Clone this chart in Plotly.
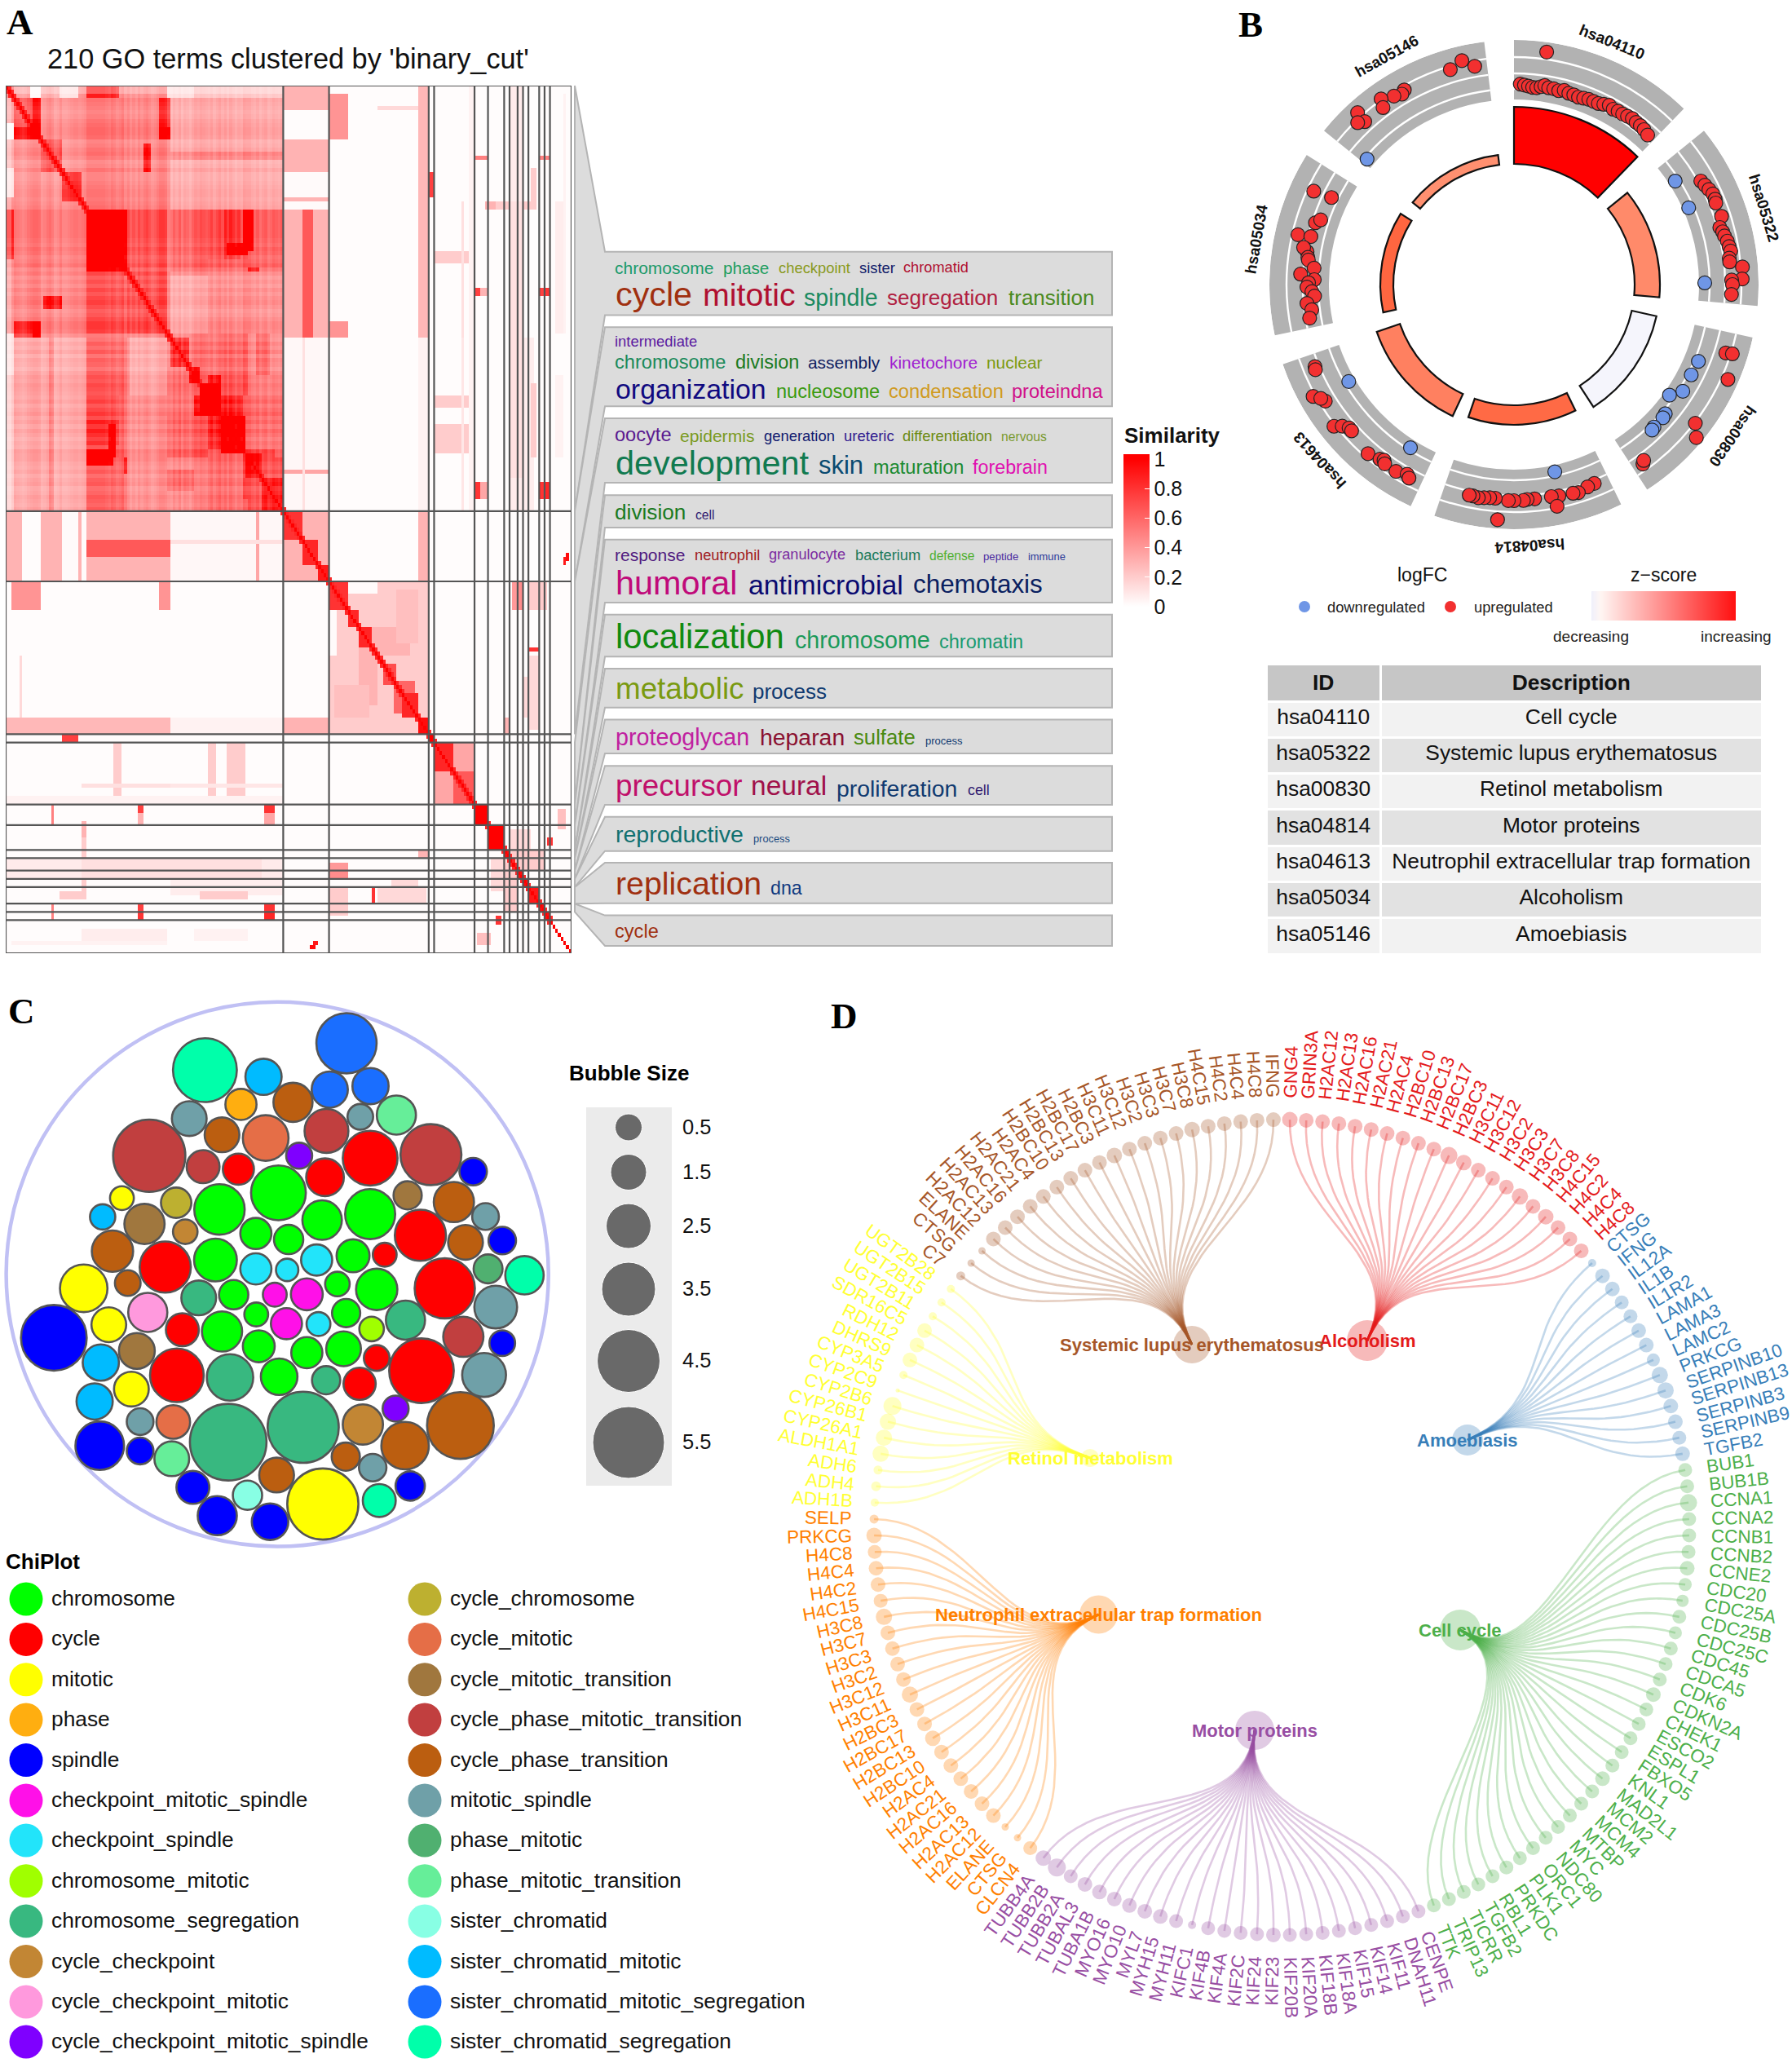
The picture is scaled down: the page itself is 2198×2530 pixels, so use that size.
import numpy as np
import plotly.graph_objects as go

W_PX, H_PX = 2198, 2530
FONT = "Liberation Sans"

# ---------- Panel A data ----------
N_TERMS = 210
BLOCK_EDGES = [0, 103, 120, 157, 159, 174, 179, 185, 187, 190, 192, 194, 198, 200, 202, 210]
# (row0, row1, col0, col1, similarity), mirrored across the diagonal
SIM_PATCHES = [
    (0, 103, 0, 103, .36), (61, 103, 0, 2, .1), (3, 30, 2, 103, .38),
    (3, 13, 2, 13, .55), (3, 13, 10, 13, .75), (13, 21, 13, 21, .6), (21, 28, 21, 28, .75),
    (0, 30, 57, 60, .55), (4, 13, 57, 60, .85), (30, 61, 0, 30, .42), (30, 40, 0, 2, .7),
    (51, 54, 14, 21, .8), (57, 61, 2, 13, .7), (57, 61, 10, 13, .9),
    (30, 61, 30, 60, .55), (30, 45, 30, 45, .85), (35, 45, 30, 45, .9), (30, 40, 30, 38, 1.0),
    (45, 61, 45, 60, .6), (30, 61, 60, 88, .45),
    (44, 54, 62, 63, .28), (44, 54, 65, 66, .28), (44, 54, 68, 69, .28), (44, 54, 71, 72, .28),
    (44, 54, 75, 76, .28), (44, 54, 78, 79, .28), (44, 54, 82, 83, .28), (44, 54, 85, 86, .28),
    (30, 40, 70, 80, .55), (36, 40, 70, 80, .7), (38, 41, 80, 88, .85),
    (30, 61, 88, 103, .5), (30, 48, 88, 93, .8),
    (61, 103, 30, 45, .5), (75, 90, 30, 42, .55), (81, 87, 30, 42, .65), (88, 92, 30, 40, .85),
    (90, 94, 44, 48, .8), (82, 90, 38, 41, .9),
    (61, 103, 2, 30, .3), (61, 103, 16, 18, .4), (61, 103, 45, 60, .38), (61, 75, 46, 60, .3),
    (68, 90, 60, 88, .5), (75, 85, 70, 88, .75), (80, 90, 60, 75, .55),
    (90, 103, 60, 88, .42), (93, 98, 60, 70, .55), (75, 103, 88, 103, .5), (90, 100, 88, 103, .6),
    (61, 68, 61, 68, .8), (68, 72, 68, 72, .95), (72, 80, 72, 80, 1.0), (80, 89, 80, 89, 1.0),
    (89, 95, 89, 95, .85), (95, 103, 95, 103, .8), (0, 3, 0, 3, .6),
    (0, 3, 3, 9, .35), (0, 3, 9, 13, .02), (0, 3, 13, 20, .3), (0, 3, 20, 27, .1), (0, 3, 27, 30, .4),
    (0, 3, 30, 42, .75), (0, 3, 42, 60, .4), (0, 3, 60, 70, .12), (0, 3, 70, 103, .2),
    # cluster 1 x cluster 2
    (0, 61, 103, 120, .3), (6, 13, 103, 120, .01), (21, 27, 103, 120, .02), (28, 30, 103, 120, .02),
    (30, 61, 110, 114, .65), (61, 103, 103, 120, .03), (93, 94, 103, 120, .35), (61, 103, 110, 111, .12),
    (103, 120, 103, 120, .3), (103, 110, 103, 110, .8), (110, 116, 110, 114, .85), (116, 120, 116, 120, .9),
    # cluster 1, 2 x cluster 3
    (2, 13, 120, 127, .42), (57, 61, 120, 127, .42), (5, 6, 138, 153, .15),
    (0, 61, 153, 157, .28), (103, 120, 153, 157, .3), (61, 103, 153, 157, .05),
    (120, 157, 120, 157, .2), (120, 127, 120, 127, .8), (120, 123, 127, 138, .02),
    (127, 133, 120, 122, .02), (131, 140, 131, 140, .85), (140, 145, 140, 145, .7),
    (144, 152, 144, 152, .6), (147, 153, 148, 153, .85), (153, 157, 153, 157, .95),
    (127, 131, 127, 131, .85), (136, 150, 131, 138, .3), (122, 135, 145, 153, .25),
    (157, 159, 157, 159, 1.0), (21, 27, 157, 159, .75),
    # cluster 5
    (159, 174, 159, 174, .35), (159, 166, 159, 166, .85), (166, 174, 166, 174, .65),
    (40, 43, 159, 174, .2), (75, 78, 159, 174, .2), (82, 89, 159, 174, .2),
    (28, 61, 169, 170, .12), (61, 103, 169, 170, .1),
    # small clusters
    (174, 179, 174, 179, 1.0), (17, 18, 174, 179, .5), (49, 51, 174, 176, .75), (49, 51, 176, 179, .3),
    (96, 100, 174, 176, .8), (96, 100, 176, 179, .35),
    (179, 185, 179, 185, 1.0), (185, 187, 185, 187, .95), (187, 190, 187, 190, 1.0),
    (190, 192, 190, 192, .95), (192, 194, 192, 194, .95), (194, 198, 194, 198, .9),
    (198, 200, 198, 200, .95), (200, 202, 200, 202, .95),
    (4, 14, 188, 191, .55), (57, 61, 188, 191, .6), (120, 127, 188, 191, .4),
    (2, 13, 190, 192, .6), (57, 61, 190, 192, .6), (120, 127, 190, 192, .45),
    (120, 127, 197, 201, .2), (28, 30, 180, 197, .2), (0, 103, 187, 192, .08), (61, 103, 192, 196, .07),
    (17, 18, 198, 202, .5), (49, 51, 198, 202, .75), (96, 100, 198, 202, .8),
    (17, 18, 200, 202, .5), (49, 51, 200, 202, .8), (96, 100, 200, 202, .85),
    (194, 198, 120, 127, .2), (194, 198, 138, 156, .15), (194, 198, 136, 137, .8),
    (208, 209, 113, 115, .95), (114, 116, 207, 208, .9), (143, 153, 192, 197, .15),
    (153, 157, 185, 187, .3), (182, 184, 201, 203, .8), (205, 208, 175, 180, .25), (180, 190, 187, 195, .15),
    (188, 200, 185, 190, .2), (207, 208, 2, 60, .05), (204, 207, 28, 60, .07), (204, 207, 70, 90, .05),
    (195, 197, 72, 90, .2), (195, 197, 20, 30, .2), (187, 192, 28, 60, .12), (187, 192, 60, 95, .12),
    (172, 174, 0, 103, .05), (178, 182, 28, 30, .3),
]
# light/dark tone of the first 103 terms, seen as stripes in the large cluster
TERM_TONE = [.7, .7, 1.0, 1.1, 1.05, 1.0, .95, 1.0, 1.1, 1.15, 1.2, 1.2, 1.15, .95, 1.0, 1.1, 1.15, 1.05, .9, .95, 1.1,
             .95, .95, 1.0, 1.05, 1.1, 1.1, 1.05, 1.1, 1.15, 1.2, 1.2, 1.2, 1.2, 1.2, 1.2, 1.2, 1.15, 1.1, 1.2, 1.15, 1.05,
             1.1, 1.2, 1.0, 1.1, .95, 1.05, .95, 1.1, 1.0, 1.1, 1.15, 1.05, .95, 1.0, 1.1, 1.2, 1.2, 1.15, .95, .9,
             1.05, .95, 1.1, .9, 1.05, 1.0, .9, 1.05, 1.15, 1.1, 1.2, 1.15, 1.1, 1.05, 1.15, 1.0, 1.1, 1.2, 1.05, 1.15, 1.0,
             1.15, 1.05, .95, 1.05, 1.0, 1.2, 1.15, 1.15, 1.05, 1.0, 1.1, .95, 1.05, 1.1, .95, 1.0, 1.1, 1.05, 1.0, 1.1]
CLUSTER_WORDS = [
    ["chromosome", "phase", "checkpoint", "sister", "chromatid", "cycle", "mitotic", "spindle", "segregation", "transition"],
    ["intermediate", "chromosome", "division", "assembly", "kinetochore", "nuclear", "organization", "nucleosome", "condensation", "proteindna"],
    ["oocyte", "epidermis", "generation", "ureteric", "differentiation", "nervous", "development", "skin", "maturation", "forebrain"],
    ["division", "cell"],
    ["response", "neutrophil", "granulocyte", "bacterium", "defense", "peptide", "immune", "humoral", "antimicrobial", "chemotaxis"],
    ["localization", "chromosome", "chromatin"],
    ["metabolic", "process"],
    ["proteoglycan", "heparan", "sulfate", "process"],
    ["precursor", "neural", "proliferation", "cell"],
    ["reproductive", "process"],
    ["replication", "dna"],
    ["cycle"],
]
# styling of the words (left, right, middle in a 1568-wide crop frame; colour)
WORD_LAYOUT = [
    [(103,335,67,"#1a9a6a"),(357,465,67,"#1e9e60"),(488,656,67,"#8a9a1e"),(676,760,67,"#10206a"),(781,934,67,"#b01030"),
     (105,285,125,"#a03010"),(310,527,125,"#b01030"),(547,720,133,"#1a8a60"),(742,1003,133,"#b02040"),(1026,1228,133,"#4a8a20")],
    [(103,297,227,"#5a1aa0"),(103,364,271,"#1a8a5a"),(386,536,271,"#1a7a20"),(557,726,273,"#102060"),(747,954,273,"#a020d0"),
     (976,1107,273,"#7a9a10"),(105,458,329,"#100a80"),(481,724,334,"#3a9a10"),(745,1014,334,"#d09a20"),(1035,1248,334,"#d0108a")],
    [(103,236,429,"#5a1a90"),(257,432,430,"#7a9a20"),(453,619,431,"#101a70"),(640,758,431,"#301a90"),(778,989,431,"#6a8a10"),
     (1009,1116,432,"#7a9a30"),(105,558,490,"#107a50"),(582,687,495,"#0a4a70"),(709,922,499,"#1a8a30"),(943,1119,499,"#e010b0")],
    [(103,270,595,"#1a7a20"),(292,337,601,"#301a70")],
    [(103,268,688,"#501a80"),(290,444,688,"#a01a20"),(465,645,688,"#7a2aa0"),(667,821,688,"#1a7a5a"),(842,948,690,"#50b030"),
     (968,1051,692,"#4a2aa0"),(1072,1160,692,"#2a3a9a"),(105,391,748,"#c00a7a"),(416,779,752,"#0a0a70"),(803,1107,752,"#0a2060")],
    [(105,500,865,"#108a10"),(525,842,873,"#1a9a5a"),(864,1061,875,"#1a9a70")],
    [(105,406,977,"#7a9a10"),(427,601,983,"#103a70")],
    [(105,419,1082,"#c020a0"),(443,642,1082,"#8a1030"),(664,809,1082,"#4a8a10"),(832,919,1090,"#103a70")],
    [(105,402,1187,"#c0106a"),(423,601,1187,"#a0104a"),(624,908,1192,"#103a70"),(932,983,1197,"#301a70")],
    [(105,405,1292,"#107070"),(428,514,1301,"#1a4a80")],
    [(105,447,1398,"#a03010"),(469,543,1408,"#103a80")],
    [(103,206,1502,"#a03010")],
]
BOX_SPANS = [(33,170),(196,367),(393,532),(559,629),(655,791),(817,908),(934,1018),(1044,1117),(1144,1228),(1254,1328),(1353,1441),(1467,1533)]
BOX_BLOCK = [0, 1, 2, 4, 5, 6, 7, 8, 9, 10, 11, 12]

# ---------- Panel B data ----------
KEGG_ID = ["hsa04110", "hsa05322", "hsa00830", "hsa04814", "hsa04613", "hsa05034", "hsa05146"]
KEGG_DESC = ["Cell cycle", "Systemic lupus erythematosus", "Retinol metabolism", "Motor proteins",
             "Neutrophil extracellular trap formation", "Alcoholism", "Amoebiasis"]
SECTOR_START = [0, 51, 102.5, 154, 205, 258, 309]
SECTOR_END = [44, 95, 147, 199, 251, 302, 353]
BAR_HEIGHT = [70, 31, 31, 24, 30, 16, 12]
BAR_COLOR = ["#ff0000", "#ff8a6a", "#f5f5fc", "#ff6a45", "#ff8060", "#ff6640", "#ff9070"]
UP_THETA = [8, 1.8,3,4.2,5.4,6.6,7.8,8.8,10,11.5,13,14.5,16,17.5,19,20.5,22,23.5,25,26.5,28,29.5,31,32.5,34,35.5,37,38.5,40,41.8,
            61,62.5,64,65.5,67,68,71.8,74.5,75.8,77,78.5,80,81.2,83,84,85.6,88.6,88.8,90,92.6,
            107.9,107.6,113.9,127.4,130,144.3,143.6,
            158,160,162.8,164.2,168,170,169,174.5,176.5,177.5,180,181.5,185,186.5,188,189.5,191,192,184,
            247.6,246.8,240.9,238.3,239.5,231.8,230.5,229,228,220.8,217.5,216.5,215.8,212.3,209.4,208.5,
            295,295.5,287.3,288.5,283,283.3,279,280,277.5,276.8,274.7,272.8,271.4,270.5,269.3,268,266.7,264.8,262.9,260.7,
            346.9,349.8,343.5,330.6,329.5,327.5,324.4,323.5,317.7,317.5,316]
UP_R = [288, 246,245,244,243,243,245,247,245,245,244,246,244,244,243,244,245,245,245,247,249,247,248,248,249,250,249,249,248,246,
        262,264,266,268,268,267,268,262,264,265,267,268,269,266,266,281,280,267,268,267,
        273,281,287,280,292,271,268,
        263,264,267,266,265,264,277,264,264,265,265,265,263,263,264,265,264,264,289,
        264,265,282,272,275,281,273,268,268,274,270,268,271,271,267,270,
        271,248,255,250,272,256,257,262,255,254,246,262,245,252,254,248,245,255,250,254,
        282,272,275,274,271,274,280,270,285,271,276]
DOWN_THETA = [57.3,66.3,89.5, 112.6,117,122.3,125.4,130.5,131.8,135.5,136.5, 167.7, 239.6,212.4, 310.5]
DOWN_R = [235,234,234, 245,244,245,234,244,245,245,246, 235, 235,237, 237]
LFC_GRID = [240, 259, 279]

# ---------- Panel C data ----------
CATEGORY_COLORS = {
    "chromosome": "#00ff00", "cycle": "#ff0000", "mitotic": "#ffff00", "phase": "#ffae10", "spindle": "#0000ff",
    "checkpoint_mitotic_spindle": "#ff10e8", "checkpoint_spindle": "#22e4fa", "chromosome_mitotic": "#a0ff00",
    "chromosome_segregation": "#38b880", "cycle_checkpoint": "#c28634", "cycle_checkpoint_mitotic": "#ff99dd",
    "cycle_checkpoint_mitotic_spindle": "#7f00ff", "cycle_chromosome": "#bdb030", "cycle_mitotic": "#e56e47",
    "cycle_mitotic_transition": "#a0773e", "cycle_phase_mitotic_transition": "#c13f3f", "cycle_phase_transition": "#bb5e10",
    "mitotic_spindle": "#6fa0a8", "phase_mitotic": "#50b070", "phase_mitotic_transition": "#66ee99",
    "sister_chromatid": "#88ffe4", "sister_chromatid_mitotic": "#00bbff",
    "sister_chromatid_mitotic_segregation": "#1a6eff", "sister_chromatid_segregation": "#00ffaa",
}
BUBBLES = {
    "sister_chromatid_mitotic_segregation": [(952,137,170),(906,268,104),(1018,258,104)],
    "sister_chromatid_segregation": [(563,213,180),(1441,793,110),(1042,1430,95)],
    "sister_chromatid_mitotic": [(724,232,104),(282,628,74),(277,1040,104),(260,1150,104)],
    "phase": [(662,310,90)],
    "cycle_phase_transition": [(805,304,112),(610,396,100),(1247,586,115),(1279,700,100),(309,725,118),(351,815,75),(760,1358,100),(1265,1218,188),(1113,1275,135),(950,1306,82)],
    "mitotic_spindle": [(520,350,100),(990,345,75),(1334,627,78),(1362,883,122),(1330,1075,125),(385,1207,78),(1024,1337,80)],
    "cycle_mitotic": [(730,405,130),(476,1208,97)],
    "cycle_phase_mitotic_transition": [(410,455,203),(897,385,125),(1184,452,172),(558,486,95),(1273,967,115)],
    "phase_mitotic_transition": [(1089,340,112),(472,1312,100)],
    "cycle": [(655,493,90),(893,516,108),(1017,462,155),(1155,680,145),(454,770,145),(1057,735,70),(1222,830,170),(501,947,95),(486,1076,152),(1035,1027,75),(1158,1063,182),(988,1100,93)],
    "cycle_checkpoint_mitotic_spindle": [(822,455,76),(1087,1170,76)],
    "spindle": [(1300,500,80),(1380,695,80),(148,970,185),(1380,985,75),(274,1275,138),(385,1290,78),(1127,1389,85),(530,1393,95),(597,1473,112),(742,1490,105)],
    "mitotic": [(335,575,70),(230,830,135),(299,933,100),(361,1115,100),(887,1440,200)],
    "cycle_chromosome": [(484,588,88)],
    "cycle_mitotic_transition": [(1120,567,82),(397,648,115),(376,1007,103)],
    "cycle_checkpoint": [(509,670,72),(997,1215,115)],
    "chromosome": [(765,560,155),(603,607,143),(1017,620,142),(885,637,113),(703,675,90),(793,692,85),(592,750,122),(970,738,95),(1035,833,118),(642,848,85),(927,818,72),(704,904,70),(951,900,82),(610,952,115),(711,994,92),(843,1012,90),(944,1001,100),(767,1080,105)],
    "checkpoint_spindle": [(703,775,90),(789,778,66),(870,750,90),(875,931,70)],
    "checkpoint_mitotic_spindle": [(755,848,70),(843,847,92),(787,930,90)],
    "chromosome_mitotic": [(1021,945,72)],
    "chromosome_segregation": [(546,857,100),(632,1082,132),(1114,920,112),(896,1090,82),(627,1265,215),(833,1223,200)],
    "phase_mitotic": [(1341,775,84)],
    "cycle_checkpoint_mitotic": [(406,898,112)],
    "sister_chromatid": [(680,1415,85)],
}
LEGEND_BUBBLE_LABELS = ["0.5", "1.5", "2.5", "3.5", "4.5", "5.5"]
LEGEND_BUBBLE_DIAM = [33, 44, 55, 66, 77, 88]

# ---------- Panel D data ----------
PATHWAYS = ["Alcoholism", "Amoebiasis", "Cell cycle", "Motor proteins", "Neutrophil extracellular trap formation", "Retinol metabolism", "Systemic lupus erythematosus"]
PATH_COLORS = ["#e41a1c", "#377eb8", "#4daf4a", "#984ea3", "#ff7f00", "#ffff33", "#a65628"]
HUB_X = [105, 228, 219, -33, -224.5, -235, -110]
HUB_Y = [229, 107, -126, -249, -107, 85, 224]
HUB_DIAM = [50, 38, 50, 48, 47, 22, 46]
GENES = [
    ["GNG4","GRIN3A","H2AC12","H2AC13","H2AC16","H2AC21","H2AC4","H2BC10","H2BC13","H2BC17","H2BC3","H3C11","H3C12","H3C2","H3C3","H3C7","H3C8","H4C15","H4C2","H4C4","H4C8"],
    ["CTSG","IFNG","IL12A","IL1B","IL1R2","LAMA1","LAMA3","LAMC2","PRKCG","SERPINB10","SERPINB13","SERPINB3","SERPINB9","TGFB2"],
    ["BUB1","BUB1B","CCNA1","CCNA2","CCNB1","CCNB2","CCNE2","CDC20","CDC25A","CDC25B","CDC25C","CDC45","CDCA5","CDK6","CDKN2A","CHEK1","ESCO2","ESPL1","FBXO5","KNL1","MAD2L1","MCM2","MCM4","MTBP","MYC","NDC80","ORC1","PLK1","PRKDC","RBL1","TGFB2","TICRR","TRIP13","TTK"],
    ["CENPE","DNAH11","KIF11","KIF14","KIF15","KIF18A","KIF18B","KIF20A","KIF20B","KIF23","KIF24","KIF2C","KIF4A","KIF4B","KIFC1","MYH11","MYH15","MYL7","MYO10","MYO16","TUBA1B","TUBAL3","TUBB2A","TUBB2B","TUBB4A"],
    ["CLCN4","CTSG","ELANE","H2AC12","H2AC13","H2AC16","H2AC21","H2AC4","H2BC10","H2BC13","H2BC17","H2BC3","H3C11","H3C12","H3C2","H3C3","H3C7","H3C8","H4C15","H4C2","H4C4","H4C8","PRKCG","SELP"],
    ["ADH1B","ADH4","ADH6","ALDH1A1","CYP26A1","CYP26B1","CYP2B6","CYP2C9","CYP3A5","DHRS9","RDH12","SDR16C5","UGT2B11","UGT2B15","UGT2B28"],
    ["C7","CTSG","ELANE","H2AC12","H2AC13","H2AC16","H2AC21","H2AC4","H2BC10","H2BC13","H2BC17","H2BC3","H3C11","H3C12","H3C2","H3C3","H3C7","H3C8","H4C15","H4C2","H4C4","H4C8","IFNG"],
]
GENE_SIZES = [
    [19,18,18,18,18,18,18,18,18,18,21,19,18,18,18,20,18,19,18,18,18],
    [10,18,18,17,17,18,18,16,20,20,18,18,17,18],
    [17,17,21,17,17,17,18,16,15,17,16,17,17,17,18,17,17,17,17,17,18,17,17,17,17,17,17,17,17,17,17,17,17,17],
    [17,17,17,17,17,17,17,17,17,18,17,17,17,17,10,17,18,18,18,18,18,18,17,22,19],
    [17,9,9,18,18,18,18,18,18,19,18,18,20,18,18,18,18,20,17,18,18,17,19,11],
    [10,12,11,20,20,20,22,5,10,18,18,18,10,10,10],
    [11,9,9,18,18,18,18,18,18,18,18,18,19,18,18,18,18,19,18,18,18,18,18],
]

# ---------- helpers ----------
ARIAL = dict(zip("abcdefghijklmnopqrstuvwxyz", [.556,.556,.5,.556,.556,.278,.556,.556,.222,.222,.5,.222,.833,.556,.556,.556,.556,.333,.5,.278,.556,.5,.722,.5,.5,.5]))
ARIAL.update(dict(zip("ABCDEFGHIJKLMNOPQRSTUVWXYZ", [.667,.667,.722,.722,.667,.611,.778,.722,.278,.5,.667,.556,.833,.722,.778,.667,.778,.722,.667,.611,.722,.667,.944,.667,.667,.611])))
ARIAL.update({d: .556 for d in "0123456789"})
def em(s):
    return sum(ARIAL.get(c, .4) for c in s)
def px(x): return x / W_PX
def py(y): return 1 - y / H_PX
def dom_x(a, b): return [a / W_PX, b / W_PX]
def dom_y(a, b): return [1 - b / H_PX, 1 - a / H_PX]
def rgba(h, a):
    return f"rgba({int(h[1:3],16)},{int(h[3:5],16)},{int(h[5:7],16)},{a})"

annotations, shapes = [], []
def text(x, y, s, size, color="#111111", bold=False, anchor="left", family=FONT, angle=0):
    annotations.append(dict(x=px(x), y=py(y), xref="paper", yref="paper", text=f"<b>{s}</b>" if bold else s,
                            showarrow=False, xanchor=anchor, yanchor="middle", textangle=angle, borderpad=0, borderwidth=0,
                            font=dict(family=family, size=size, color=color)))

fig = go.Figure()
AX = dict(visible=False, fixedrange=True, showgrid=False, zeroline=False)

# ---------- Panel A ----------
z = np.full((N_TERMS, N_TERMS), 0.012)
for r0, r1, c0, c1, v in SIM_PATCHES:
    z[r0:r1, c0:c1] = v
    z[c0:c1, r0:r1] = v
for i, ti in enumerate(TERM_TONE):
    for j, tj in enumerate(TERM_TONE):
        z[i, j] = min(1.0, z[i, j] * ti * tj)
for i in range(N_TERMS):
    z[i, i] = 1.0
    if i + 1 < N_TERMS and i < 202:
        z[i, i + 1] = z[i + 1, i] = max(z[i, i + 1], .85)
centres = [i + .5 for i in range(N_TERMS)]
fig.add_trace(go.Heatmap(z=z.tolist(), x=centres, y=centres, zmin=0, zmax=1, xaxis="x", yaxis="y", hoverinfo="skip",
                         colorscale=[[0, "#ffffff"], [1, "#ff0000"]], zsmooth=False,
                         colorbar=dict(x=1378 / W_PX, xanchor="left", y=py(744), yanchor="bottom", len=181, lenmode="pixels",
                                       thickness=32, thicknessmode="pixels", outlinewidth=0, ticks="inside", tickcolor="white",
                                       ticklen=6, xpad=0, ypad=0, tickvals=[0, .2, .4, .6, .8, 1], ticktext=["0", "0.2", "0.4", "0.6", "0.8", "1"],
                                       tickfont=dict(family=FONT, size=25, color="#111"))))
shapes.append(dict(type="rect", xref="x2", yref="y2", x0=1378, x1=1410, y0=557, y1=564, fillcolor="#ff0000", line=dict(width=0)))
LINE = dict(color="#555555", width=2.2)
for e in BLOCK_EDGES[1:-1]:
    shapes.append(dict(type="line", xref="x", yref="y", x0=e, x1=e, y0=0, y1=N_TERMS, line=LINE))
    shapes.append(dict(type="line", xref="x", yref="y", x0=0, x1=N_TERMS, y0=e, y1=e, line=LINE))
shapes.append(dict(type="rect", xref="x", yref="y", x0=0, x1=N_TERMS, y0=0, y1=N_TERMS, line=LINE))
text(353, 72, "210 GO terms clustered by 'binary_cut'", 34.3, anchor="center")
text(1379, 534, "Similarity", 26, bold=True, anchor="left", color="#111")
for lab, x, y in [("A", 24, 27), ("B", 1534, 30), ("C", 26, 1240), ("D", 1035, 1246)]:
    text(x, y, lab, 45, bold=True, anchor="center", family="Liberation Serif", color="#000")

A_TOP, A_BOT = 105, 1169
def row_px(r): return A_TOP + (A_BOT - A_TOP) * r / N_TERMS
BOX_L, BOX_R = 742, 1364
for (a, b), blk in zip(BOX_SPANS, BOX_BLOCK):
    t, u = 290 + a / 1.762, 290 + b / 1.762
    fig.add_trace(go.Scatter(x=[705, BOX_L, BOX_R, BOX_R, BOX_L, 705, 705],
                             y=[row_px(BLOCK_EDGES[blk]), t, t, u, u, row_px(BLOCK_EDGES[blk + 1]), row_px(BLOCK_EDGES[blk])],
                             xaxis="x2", yaxis="y2", mode="lines", fill="toself", fillcolor="#dcdcdc",
                             line=dict(color="#b4b4b4", width=2), hoverinfo="skip", showlegend=False))
for words, lay in zip(CLUSTER_WORDS, WORD_LAYOUT):
    for w, (x0, x1, yc, col) in zip(words, lay):
        width = (x1 - x0) / 1.912
        text(700 + x0 / 1.912, 290 + yc / 1.762, w, round(width / em(w), 1), color=col)

# ---------- Panel B ----------
CX, CY, RB = 1857, 349, 300
theta_mid = [(a + b) / 2 for a, b in zip(SECTOR_START, SECTOR_END)]
widths = [b - a for a, b in zip(SECTOR_START, SECTOR_END)]
n = len(theta_mid)
fig.add_trace(go.Barpolar(theta=theta_mid, width=widths, base=[227] * n, r=[73] * n, marker=dict(color="#b2b2b2", line=dict(width=0)), hoverinfo="skip", subplot="polar"))
for g in LFC_GRID:
    fig.add_trace(go.Barpolar(theta=theta_mid, width=widths, base=[g - 1.2] * n, r=[2.4] * n, marker=dict(color="white", line=dict(width=0)), hoverinfo="skip", subplot="polar"))
fig.add_trace(go.Barpolar(theta=theta_mid, width=widths, base=[148] * n, r=BAR_HEIGHT, marker=dict(color=BAR_COLOR, line=dict(color="#111", width=2.2)), hoverinfo="skip", subplot="polar"))
fig.add_trace(go.Scatterpolar(theta=UP_THETA, r=UP_R, mode="markers", subplot="polar", hoverinfo="skip",
                              marker=dict(size=17, color="#f23030", opacity=1, line=dict(color="#222", width=1.2))))
fig.add_trace(go.Scatterpolar(theta=DOWN_THETA, r=DOWN_R, mode="markers", subplot="polar", hoverinfo="skip",
                              marker=dict(size=17, color="#6f96e6", opacity=1, line=dict(color="#222", width=1.2))))
LABEL_R = [321, 321, 326, 321, 321, 321, 321]
for kid, th, lr in zip(KEGG_ID, theta_mid, LABEL_R):
    t = np.radians(th)
    text(CX + lr * np.sin(t), CY - lr * np.cos(t), kid, 19, bold=True, anchor="center", color="#111", angle=th if th <= 180 else th - 360)
fig.add_trace(go.Scatter(x=[1600], y=[744], xaxis="x2", yaxis="y2", mode="markers", marker=dict(size=14, color="#6f96e6"), hoverinfo="skip"))
fig.add_trace(go.Scatter(x=[1779], y=[744], xaxis="x2", yaxis="y2", mode="markers", marker=dict(size=14, color="#f23030"), hoverinfo="skip"))
text(1744, 705, "logFC", 23, anchor="center")
text(2040, 705, "z\u2212score", 23, anchor="center")
text(1628, 744, "downregulated", 18.3, color="#222")
text(1808, 744, "upregulated", 18.3, color="#222")
text(1951, 780, "decreasing", 19, color="#222", anchor="center")
text(2129, 780, "increasing", 19, color="#222", anchor="center")
RAMP = [0, .25, .5, .75, 1]
fig.add_trace(go.Heatmap(z=[RAMP, RAMP], x=[0, 1, 2, 3, 4], y=[0, 1], xaxis="x5", yaxis="y5", zmin=0, zmax=1, zsmooth="best", showscale=False,
                         hoverinfo="skip", colorscale=[[0, "#f0f0fb"], [.06, "#fff6f3"], [1, "#ff0f0f"]]))
fig.add_trace(go.Table(domain=dict(x=dom_x(1553, 2161), y=dom_y(814, 1171)), columnwidth=[140, 466],
                       header=dict(values=["<b>ID</b>", "<b>Description</b>"], height=43, fill_color="#c6c6c6", align="center",
                                   line=dict(color="white", width=3), font=dict(family=FONT, size=26.4, color="#111")),
                       cells=dict(values=[KEGG_ID, KEGG_DESC], height=44.3, align="center", line=dict(color="white", width=3),
                                  fill_color=[["#f2f2f2", "#e2e2e2"] * 3 + ["#f2f2f2"]] * 2, font=dict(family=FONT, size=26.4, color="#111"))))

# ---------- Panel C ----------
shapes.append(dict(type="circle", xref="x3", yref="y3", x0=17, x1=1507, y0=20, y1=1560, layer="below", line=dict(color="#c0c0f4", width=4.5)))
for cat, pts in BUBBLES.items():
    fig.add_trace(go.Scatter(x=[p[0] for p in pts], y=[p[1] for p in pts], xaxis="x3", yaxis="y3", mode="markers", hoverinfo="skip",
                             marker=dict(size=[p[2] / 2.24 - 2 for p in pts], color=CATEGORY_COLORS[cat], opacity=1, line=dict(color="#555", width=2.6))))
shapes.append(dict(type="rect", xref="x2", yref="y2", x0=719, x1=824, y0=1358, y1=1822, fillcolor="#ebebeb", line=dict(width=0), layer="below"))
LEG_Y = [1382.5, 1437.5, 1503.6, 1581, 1669, 1769]
fig.add_trace(go.Scatter(x=[771] * 6, y=LEG_Y, xaxis="x2", yaxis="y2", mode="markers", hoverinfo="skip", marker=dict(size=LEGEND_BUBBLE_DIAM, color="#696969", opacity=1)))
for lab, y in zip(LEGEND_BUBBLE_LABELS, LEG_Y):
    text(837, y - 1, lab, 25.5)
text(698, 1316, "Bubble Size", 26, bold=True, color="#000")
text(7, 1915, "ChiPlot", 26, bold=True, color="#000")
names = list(CATEGORY_COLORS)
ROWS_Y = [1961, 2010.4, 2059.8, 2109, 2158.6, 2208, 2257, 2306.7, 2356, 2405.5, 2455, 2504]
for k, nm in enumerate(names):
    col = k // 12
    y = ROWS_Y[k % 12]
    fig.add_trace(go.Scatter(x=[32 if col == 0 else 521], y=[y], xaxis="x2", yaxis="y2", mode="markers", hoverinfo="skip",
                             marker=dict(size=41, color=CATEGORY_COLORS[nm])))
    text(62.5 if col == 0 else 552, y - 1, nm, 26.3, color="#111")

# ---------- Panel D ----------
R_LEAF, R_MID = 500, 375
DCX, DCY = 1572, 1873
total = sum(len(g) for g in GENES)
idx = 0
ts = np.linspace(0, 1, 26)
for pw, col, hx, hy, hd, genes, sizes in zip(PATHWAYS, PATH_COLORS, HUB_X, HUB_Y, HUB_DIAM, GENES, GENE_SIZES):
    hub = np.array([hx, hy], float)
    hub_u = hub / np.hypot(hx, hy)
    lx, ly = [], []
    for g in genes:
        th = (idx + .5) * 360 / total
        t = np.radians(th)
        u = np.array([np.sin(t), np.cos(t)])
        p0, p1, p2, p3 = hub, hub_u * R_MID, u * R_MID, u * R_LEAF
        curve = np.array([(1 - s) ** 3 * p0 + 3 * (1 - s) ** 2 * s * p1 + 3 * (1 - s) * s ** 2 * p2 + s ** 3 * p3 for s in ts])
        fig.add_trace(go.Scatter(x=curve[:, 0], y=curve[:, 1], xaxis="x4", yaxis="y4", mode="lines", hoverinfo="skip",
                                 line=dict(color=rgba(col, .3), width=2.6)))
        lx.append(u[0] * R_LEAF)
        ly.append(u[1] * R_LEAF)
        size_font = 22.5
        rc = 527 + em(g) * size_font / 2
        ang = th - 90 if th < 180 else th + 90 - 360
        text(DCX + rc * u[0], DCY - rc * u[1], g, size_font, color=col, anchor="center", angle=ang)
        idx += 1
    fig.add_trace(go.Scatter(x=lx, y=ly, xaxis="x4", yaxis="y4", mode="markers", hoverinfo="skip",
                             marker=dict(size=sizes, color=rgba(col, .3), opacity=1, line=dict(width=0))))
    fig.add_trace(go.Scatter(x=[hx], y=[hy], xaxis="x4", yaxis="y4", mode="markers", hoverinfo="skip",
                             marker=dict(size=hd, color=rgba(col, .3), opacity=1, line=dict(width=0))))
    text(DCX + hx, DCY - hy, pw, 22, color=col, bold=True, anchor="center")

fig.update_layout(
    width=W_PX, height=H_PX, margin=dict(l=0, r=0, t=0, b=0), autosize=False, showlegend=False,
    paper_bgcolor="white", plot_bgcolor="rgba(0,0,0,0)", annotations=annotations, shapes=shapes,
    xaxis=dict(AX, domain=dom_x(7, 701), range=[0, N_TERMS]),
    yaxis=dict(AX, domain=dom_y(105, 1169), range=[N_TERMS, 0]),
    xaxis2=dict(AX, domain=[0, 1], range=[0, W_PX]),
    yaxis2=dict(AX, domain=[0, 1], range=[H_PX, 0]),
    xaxis3=dict(AX, domain=dom_x(0, 700), range=[0, 1568]),
    yaxis3=dict(AX, domain=dom_y(1220, 1900), range=[1568, 0]),
    xaxis4=dict(AX, domain=dom_x(950, 2198), range=[-622, 626]),
    yaxis4=dict(AX, domain=dom_y(1230, 2530), range=[-657, 643]),
    xaxis5=dict(AX, domain=dom_x(1952, 2129), range=[0, 4]),
    yaxis5=dict(AX, domain=dom_y(725, 761), range=[0, 1]),
    polar=dict(domain=dict(x=dom_x(CX - RB, CX + RB), y=dom_y(CY - RB, CY + RB)), barmode="overlay", bgcolor="rgba(0,0,0,0)",
               radialaxis=dict(visible=False, range=[0, RB]),
               angularaxis=dict(visible=False, direction="clockwise", rotation=90)),
)
fig.write_html("out.html", config=dict(displayModeBar=False), post_script="document.body.style.margin='0';")
